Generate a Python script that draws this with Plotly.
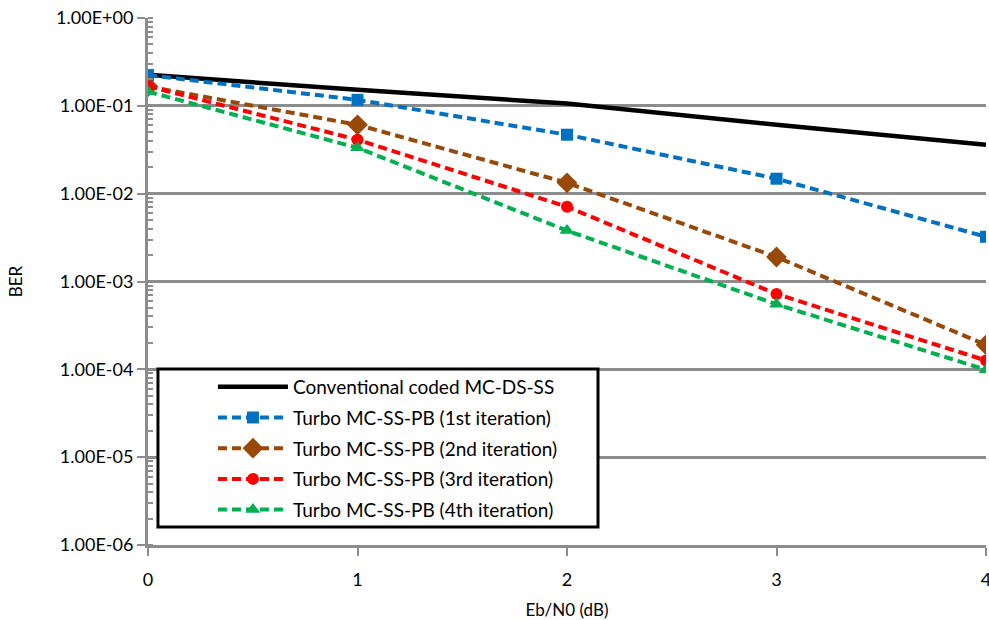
import plotly.graph_objects as go

# Eb/N0 sweep (dB)
ebn0 = [0, 1, 2, 3, 4]

# Bit error rate per scheme
ber_conventional = [0.226, 0.152, 0.106, 0.0608, 0.036]
ber_iter1 = [0.224, 0.117, 0.0469, 0.0148, 0.00323]
ber_iter2 = [0.166, 0.0608, 0.0133, 0.0019, 0.00019]
ber_iter3 = [0.167, 0.0411, 0.0071, 0.00072, 0.000126]
ber_iter4 = [0.145, 0.0333, 0.0038, 0.00055, 0.0000989]

names = [
    "Conventional coded MC-DS-SS",
    "Turbo MC-SS-PB (1st iteration)",
    "Turbo MC-SS-PB (2nd iteration)",
    "Turbo MC-SS-PB (3rd iteration)",
    "Turbo MC-SS-PB (4th iteration)",
]

y_tickvals = [1e-6, 1e-5, 1e-4, 1e-3, 1e-2, 1e-1, 1e0]
y_ticktext = ["1.00E-06", "1.00E-05", "1.00E-04", "1.00E-03",
              "1.00E-02", "1.00E-01", "1.00E+00"]
x_tickvals = [0, 1, 2, 3, 4]

FONT = "Lato"
GRID = "#8c8c8c"
DASH = "9px,5px"

series = [
    (ber_conventional, "#000000", None, None, "solid", 4.5),
    (ber_iter1, "#0070C0", "square", 12, DASH, 4),
    (ber_iter2, "#984807", "diamond", 16, DASH, 4),
    (ber_iter3, "#FF0000", "circle", 12, DASH, 4),
    (ber_iter4, "#00B050", "triangle-up", 13, DASH, 4),
]

fig = go.Figure()
for i, ((vals, color, sym, size, dash, width), name) in enumerate(zip(series, names)):
    tr = dict(
        x=ebn0, y=vals, name=name, legendgroup=f"g{i}",
        line=dict(color=color, width=width, dash=dash),
    )
    if sym is None:
        tr["mode"] = "lines"
    else:
        tr["mode"] = "lines+markers"
        tr["marker"] = dict(symbol=sym, size=size, color=color, line=dict(width=0))
    fig.add_trace(go.Scatter(**tr))

# legend frame
fig.add_shape(type="rect", xref="paper", yref="paper",
              x0=0.0119, x1=0.537, y0=0.0342, y1=0.334,
              line=dict(color="black", width=3), fillcolor="white", layer="above")

fig.update_layout(
    width=989, height=620,
    margin=dict(l=148, r=3, t=18, b=75),
    paper_bgcolor="white", plot_bgcolor="white",
    font=dict(family=FONT, size=18, color="#000000"),
    showlegend=True,
    legend=dict(
        x=0.0775, y=0.336, xanchor="left", yanchor="top",
        bgcolor="rgba(0,0,0,0)", borderwidth=0,
        font=dict(family=FONT, size=19, color="#000000"),
        itemwidth=70, tracegroupgap=3,
    ),
    xaxis=dict(
        range=[0, 4], tickvals=x_tickvals, ticks="outside", ticklen=8,
        tickwidth=2, tickcolor=GRID, showline=True, linecolor=GRID,
        linewidth=3, showgrid=False, zeroline=False, automargin=False,
        tickfont=dict(family=FONT, size=18), ticklabelstandoff=8,
        ticklabeloverflow="allow",
        title=dict(text="Eb/N0 (dB)", font=dict(family=FONT, size=17), standoff=16),
    ),
    yaxis=dict(
        type="log", range=[-6, 0], tickvals=y_tickvals, ticktext=y_ticktext,
        ticks="outside", ticklen=8, tickwidth=2, tickcolor=GRID,
        showline=True, linecolor=GRID, linewidth=3, automargin=False,
        showgrid=True, gridcolor=GRID, gridwidth=3, zeroline=False,
        tickfont=dict(family=FONT, size=18),
        minor=dict(ticks="inside", ticklen=5, tickwidth=2, tickcolor=GRID,
                   dtick="D1", showgrid=False),
        title=dict(text="BER", font=dict(family=FONT, size=17), standoff=30),
    ),
)

fig.write_html("out.html")
